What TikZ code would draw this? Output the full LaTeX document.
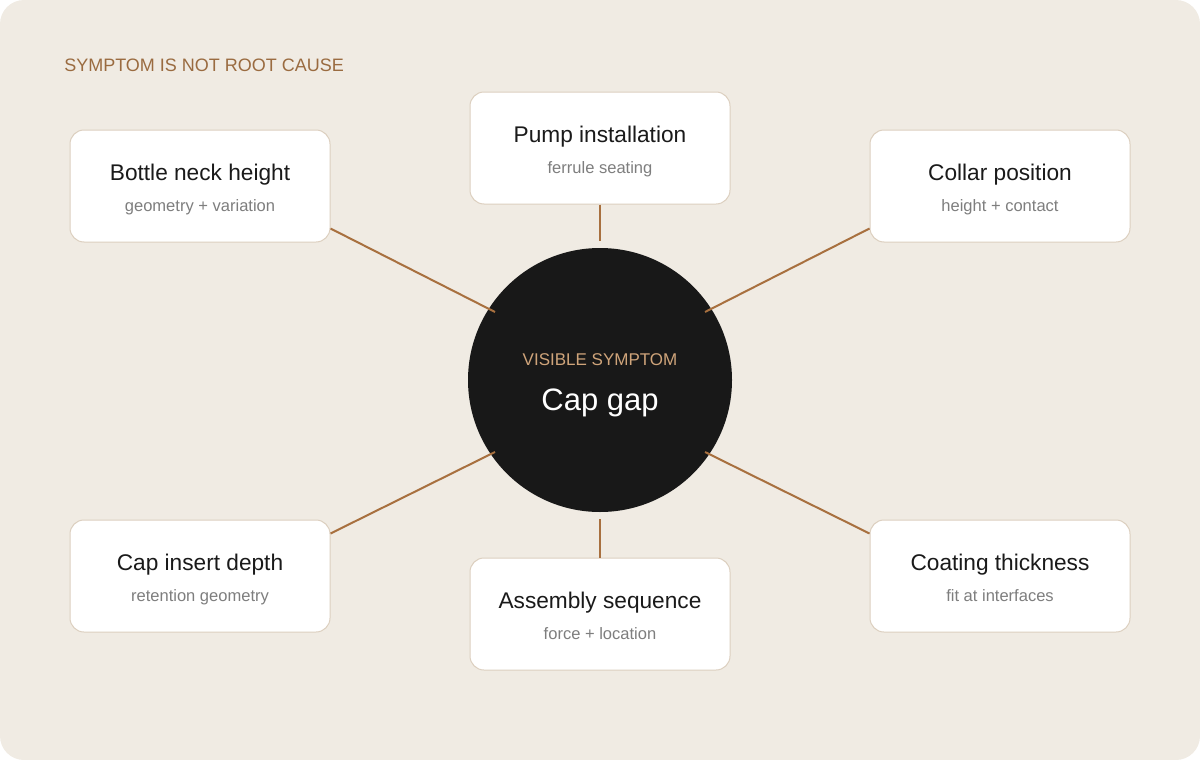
\documentclass[tikz,border=0pt]{standalone}
\usepackage{fontspec}
\setmainfont{Liberation Sans}
\definecolor{paper}{HTML}{F0EBE3}
\definecolor{boxline}{HTML}{DCCFBF}
\definecolor{linkbrown}{HTML}{A8703F}
\definecolor{headbrown}{HTML}{9A6B40}
\definecolor{ink}{HTML}{1A1A1A}
\definecolor{subgray}{HTML}{7E7E7E}
\definecolor{hubfill}{HTML}{181818}
\definecolor{hubtag}{HTML}{CFA47A}
\tikzset{
  causebox/.style={draw=boxline, fill=white, line width=0.75pt, rounded corners=10.5pt,
    minimum width=195pt, minimum height=84pt, inner sep=0pt},
  causetitle/.style={anchor=base, text=ink, font=\fontsize{17}{20}\selectfont},
  causesub/.style={anchor=base, text=subgray, font=\fontsize{12.4}{15}\selectfont},
  link/.style={draw=linkbrown, line width=1.5pt},
}
\begin{document}
\begin{tikzpicture}[x=0.75pt,y=-0.75pt]
\useasboundingbox (0,0) rectangle (1200,760);
\fill[paper, rounded corners=18pt] (0,0) rectangle (1200,760);

\node[anchor=base west, text=headbrown, font=\fontsize{13.5}{16}\selectfont, inner sep=0pt]
  (heading) at (64,71) {SYMPTOM IS NOT ROOT CAUSE};

% the six causes
\node[causebox] (neck) at (200,186) {};
\node[causetitle] (neck-t) at (200,180) {Bottle neck height};
\node[causesub] (neck-s) at (200,211) {geometry + variation};

\node[causebox] (pump) at (600,148) {};
\node[causetitle] (pump-t) at (600,142) {Pump installation};
\node[causesub] (pump-s) at (600,173) {ferrule seating};

\node[causebox] (collar) at (1000,186) {};
\node[causetitle] (collar-t) at (1000,180) {Collar position};
\node[causesub] (collar-s) at (1000,211) {height + contact};

\node[causebox] (insert) at (200,576) {};
\node[causetitle] (insert-t) at (200,570) {Cap insert depth};
\node[causesub] (insert-s) at (200,601) {retention geometry};

\node[causebox] (sequence) at (600,614) {};
\node[causetitle] (sequence-t) at (600,608) {Assembly sequence};
\node[causesub] (sequence-s) at (600,639) {force + location};

\node[causebox] (coating) at (1000,576) {};
\node[causetitle] (coating-t) at (1000,570) {Coating thickness};
\node[causesub] (coating-s) at (1000,601) {fit at interfaces};

% the symptom
\node[circle, fill=hubfill, minimum size=198pt, inner sep=0pt] (gap) at (600,380) {};
\node[anchor=base, text=hubtag, font=\fontsize{12.75}{15}\selectfont] (gap-tag) at (600,365) {VISIBLE SYMPTOM};
\node[anchor=base, text=white, font=\fontsize{23.25}{27}\selectfont] (gap-t) at (600,410) {Cap gap};

\coordinate (gapNW) at ([shift={(-105,-68)}]gap.center);
\coordinate (gapN) at ([shift={(0,-139)}]gap.center);
\coordinate (gapNE) at ([shift={(105,-68)}]gap.center);
\coordinate (gapSW) at ([shift={(-105,72)}]gap.center);
\coordinate (gapS) at ([shift={(0,139)}]gap.center);
\coordinate (gapSE) at ([shift={(105,72)}]gap.center);

\draw[link] ([shift={(0,-14)}]neck.south east) -- (gapNW);
\draw[link] (pump.south) -- (gapN);
\draw[link] ([shift={(0,-14)}]collar.south west) -- (gapNE);
\draw[link] ([shift={(0,14)}]insert.north east) -- (gapSW);
\draw[link] (sequence.north) -- (gapS);
\draw[link] ([shift={(0,14)}]coating.north west) -- (gapSE);
\end{tikzpicture}
\end{document}
